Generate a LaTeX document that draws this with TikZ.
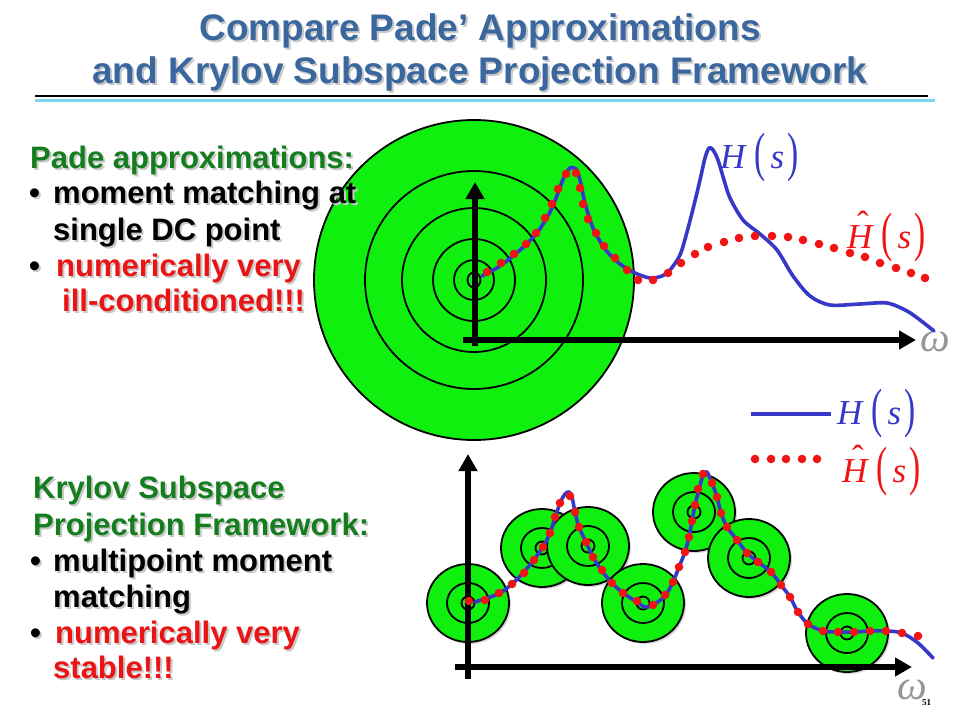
\documentclass[tikz,border=0pt]{standalone}
\usepackage{fontspec}
\setmainfont{Liberation Sans}
\newfontfamily\serifft{Liberation Serif}
\usetikzlibrary{arrows.meta}
\definecolor{titleblue}{RGB}{58,104,158}
\definecolor{txtgreen}{RGB}{20,125,30}
\definecolor{txtred}{RGB}{235,20,20}
\definecolor{limefill}{RGB}{15,240,15}
\definecolor{curveblue}{RGB}{55,55,200}
\definecolor{dotred}{RGB}{240,20,20}
\definecolor{rulecyan}{RGB}{125,215,240}
\definecolor{omegagray}{RGB}{150,150,150}
\definecolor{shadowgray}{RGB}{200,200,200}
\tikzset{
  txt/.style={anchor=base west, inner sep=0pt, font=\fontsize{31}{34}\selectfont\bfseries},
  ttl/.style={anchor=base, inner sep=0pt, font=\fontsize{37}{40}\selectfont\bfseries},
  mlbl/.style={anchor=base west, inner sep=0pt, font=\fontsize{35}{40}\selectfont\serifft},
  omg/.style={anchor=center, inner sep=0pt, text=omegagray, font=\fontsize{42}{42}\selectfont\serifft\itshape},
  target/.style={draw=black, line width=1.8pt, fill=limefill},
  ring/.style={draw=black, line width=1.8pt},
  axis/.style={line width=5.5pt, -{Triangle[width=18pt,length=17pt]}},
  hcurve/.style={curveblue, line width=3.6pt, line join=round, line cap=round},
}
\newcommand\stxt[5]{%
  \node[txt,text=shadowgray] (#1s) at (#2+2,#3+2) {#5};
  \node[txt,text=#4] (#1) at (#2,#3) {#5};}
\newcommand\bigpar[1]{\raisebox{-2pt}{\scalebox{0.62}[1]{\fontsize{54}{54}\selectfont\upshape #1}}}
\newcommand\Hs{{\itshape H}\kern9pt\bigpar(\kern5pt{\itshape s}\kern3pt\bigpar)}
\newcommand\Hhs{\makebox[0pt][l]{\kern10pt\raisebox{13pt}{\upshape\char"02C6}}{\itshape H}\kern9pt\bigpar(\kern5pt{\itshape s}\kern3pt\bigpar)}
\newcommand\target[2]{%
  \fill[shadowgray!70] (#1+2,#2+2) ellipse[x radius=41pt, y radius=39pt];
  \draw[target] (#1,#2) ellipse[x radius=41pt, y radius=39pt];
  \draw[ring] (#1,#2) ellipse[x radius=21pt, y radius=20pt];
  \draw[ring] (#1,#2) circle[radius=6.5pt];}
\begin{document}
\begin{tikzpicture}[x=1pt,y=-1pt]
\useasboundingbox[fill=white] (0,0) rectangle (960,720);

% title
\node[ttl,text=shadowgray] (t1s) at (482,42) {Compare Pade’ Approximations};
\node[ttl,text=titleblue] (t1) at (480,40) {Compare Pade’ Approximations};
\node[ttl,text=shadowgray] (t2s) at (482,85) {and Krylov Subspace Projection Framework};
\node[ttl,text=titleblue] (t2) at (480,83) {and Krylov Subspace Projection Framework};
\coordinate (r1a) at (35,96); \coordinate (r1b) at (928,96);
\coordinate (r2a) at (35,100.5); \coordinate (r2b) at (935,100.5);
\draw[line width=1.3pt] (r1a) -- (r1b);
\draw[rulecyan, line width=3pt] (r2a) -- (r2b);

% top big target
\draw[target] (474,280) circle[radius=160pt];
\foreach \r in {109,72,41,20} \draw[ring] (474,280) circle[radius=\r pt];
\draw[ring] (474,280) ellipse[x radius=6.5pt, y radius=7.5pt];

% top axes
\coordinate (tv0) at (475,346); \coordinate (tv1) at (475,182);
\coordinate (th0) at (463,340); \coordinate (th1) at (916,340);
\draw[axis] (tv0) -- (tv1);
\draw[axis] (th0) -- (th1);
\node[omg] (om1) at (935,342) {ω};

% top curves
\draw[hcurve] plot[smooth, tension=0.5] coordinates {(482,276) (500,266) (520,250) (537,233) (550,212) (558,193) (564,177) (570,168) (576,169) (580,180) (585,203) (593,228) (605,249) (620,264) (635,273) (650,278) (662,276) (670,270) (680,255) (687,232) (694,205) (700,180) (705,158) (709,148) (713,150) (718,160) (724,180) (730,198) (743,220) (760,234) (777,250) (793,276) (810,296) (830,305) (860,304) (887,303) (907,311) (920,320) (934,331)};
\foreach \p in {(487,272),(501,263),(514,254),(526,244),(536,233),(545,218),(552,204),(558,189),(566,174),(576,173),(580,188),(583,204),(588,219),(596,233),(604,246),(615,258),(627,270),(638,280),(653,280),(668,273),(681,263),(695,254),(708,247),(724,242),(739,238),(755,236),(772,236),(788,237),(803,240),(819,244),(834,248),(850,253),(865,257),(880,263),(896,268),(911,273),(925,278)}
  \fill[dotred] \p circle[radius=4.3pt];

\node[mlbl,text=curveblue] (hs1) at (720,168) {\Hs};
\node[mlbl,text=dotred] (hh1) at (847,248) {\Hhs};

% legend
\coordinate (lg0) at (751,414); \coordinate (lg1) at (831,414);
\draw[curveblue, line width=3.6pt] (lg0) -- (lg1);
\foreach \x in {755,771,786,802,817} \fill[dotred] (\x,459) circle[radius=4.3pt];
\node[mlbl,text=curveblue] (hs2) at (837,424) {\Hs};
\node[mlbl,text=dotred] (hh2) at (842,482) {\Hhs};

% bottom targets
\target{468}{603}
\target{542}{548}
\target{588}{546}
\target{643}{603}
\target{694}{512}
\target{749}{558}
\target{847}{633}

% bottom axes
\coordinate (bv0) at (468,679); \coordinate (bv1) at (468,454);
\coordinate (bh0) at (455,667); \coordinate (bh1) at (912,667);
\draw[axis] (bv0) -- (bv1);
\draw[axis] (bh0) -- (bh1);
\node[omg] (om2) at (912,690) {ω};
\node[anchor=base west, inner sep=0pt, font=\fontsize{9}{9}\selectfont\serifft\bfseries] (pg) at (922,705) {51};

% bottom curves
\draw[hcurve] plot[smooth, tension=0.5] coordinates {(475,602) (487,598) (500,593) (512,584) (523,573) (533,561) (543,547) (550,533) (555,518) (560,503) (565,494) (569,492) (572,497) (575,512) (579,527) (586,542) (593,557) (602,571) (612,583) (623,593) (637,602) (645,607) (653,605) (665,596) (673,582) (679,567) (685,552) (689,537) (692,521) (695,505) (699,490) (703,475) (707,472) (712,483) (717,497) (721,513) (727,527) (737,540) (747,553) (758,562) (771,572) (781,585) (790,597) (798,612) (808,624) (823,631) (838,632) (854,632) (870,631) (886,631) (902,633) (918,643) (933,658)};
\foreach \p in {(469,601),(485,600),(499,593),(512,584),(524,573),(534,560),(543,547),(550,533),(555,517),(560,503),(570,496),(575,512),(579,527),(586,542),(593,557),(602,570),(612,583),(623,593),(637,601),(653,605),(665,595),(673,582),(679,567),(685,552),(689,537),(692,521),(695,505),(698,489),(703,474),(712,483),(717,497),(721,513),(727,527),(737,540),(747,553),(758,562),(771,572),(781,585),(790,597),(798,612),(808,624),(823,631),(838,632),(854,632),(870,631),(886,631),(902,633),(918,636)}
  \fill[dotred] \p circle[radius=4.3pt];

% left texts
\stxt{pa}{30}{168}{txtgreen}{Pade approximations:}
\stxt{b1}{29}{203}{black}{•}
\stxt{l1}{53}{203}{black}{moment matching at}
\stxt{l2}{53}{240}{black}{single DC point}
\stxt{b2}{29}{276}{black}{•}
\stxt{l3}{56}{276}{txtred}{numerically very}
\stxt{l4}{62}{311}{txtred}{ill-conditioned!!!}

\stxt{kr}{33}{498}{txtgreen}{Krylov Subspace}
\stxt{pf}{33}{535}{txtgreen}{Projection Framework:}
\stxt{b3}{30}{571}{black}{•}
\stxt{l5}{53}{571}{black}{multipoint moment}
\stxt{l6}{53}{607}{black}{matching}
\stxt{b4}{30}{643}{black}{•}
\stxt{l7}{55}{643}{txtred}{numerically very}
\stxt{l8}{53}{678}{txtred}{stable!!!}
\end{tikzpicture}
\end{document}
